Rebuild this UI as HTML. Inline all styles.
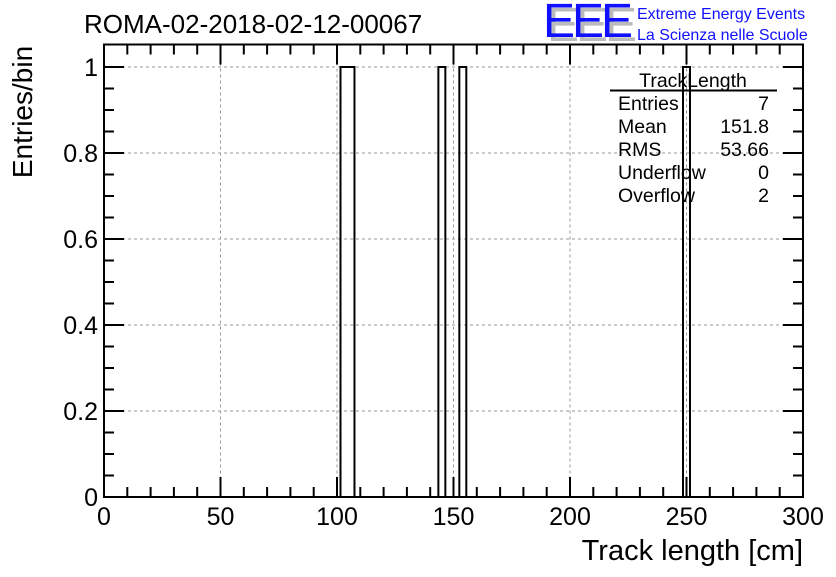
<!DOCTYPE html>
<html><head><meta charset="utf-8"><style>
body{margin:0;background:#fff;}
svg text{font-family:"Liberation Sans",sans-serif;}
</style></head><body>
<svg width="836" height="572" xmlns="http://www.w3.org/2000/svg">
<g id="grid"></g>
<g id="bars"></g>
<g id="axes"></g>
<rect x="104" y="44.5" width="699" height="452.5" fill="none" stroke="#000" stroke-width="2"/>
<text x="84" y="33" font-size="26">ROMA-02-2018-02-12-00067</text>
<text transform="translate(32,112) rotate(-90)" font-size="28" text-anchor="middle">Entries/bin</text>
<text x="803" y="560" font-size="29" text-anchor="end">Track length [cm]</text>
<g>
<text x="547" y="41" font-size="48" fill="#bbb" letter-spacing="-3">EEE</text>
<text x="543" y="37" font-size="48" fill="#1010ff" letter-spacing="-3">EEE</text>
<text x="637" y="19" font-size="16" fill="#1010ff">Extreme Energy Events</text>
<text x="637" y="40" font-size="16" fill="#1010ff">La Scienza nelle Scuole</text>
</g>
<g font-size="19.5">
<text x="693" y="87" text-anchor="middle">TrackLength</text>
<line x1="610" y1="90.5" x2="777" y2="90.5" stroke="#000" stroke-width="2"/>
<text x="618" y="110">Entries</text><text x="769" y="110" text-anchor="end">7</text>
<text x="618" y="133">Mean</text><text x="769" y="133" text-anchor="end">151.8</text>
<text x="618" y="156">RMS</text><text x="769" y="156" text-anchor="end">53.66</text>
<text x="618" y="179">Underflow</text><text x="769" y="179" text-anchor="end">0</text>
<text x="618" y="202">Overflow</text><text x="769" y="202" text-anchor="end">2</text>
</g>
</svg>
<script>
const binLowEdges=[101.5,104.5,143.5,152.5,248.5];
const binCounts=[1,1,1,1,1];
const binWidth=3;
const xTicks=[0,50,100,150,200,250,300];
const yTicks=[0,0.2,0.4,0.6,0.8,1];
const yTickLabels=["0","0.2","0.4","0.6","0.8","1"];
const X0=104,X1=803,Y0=497,Y1=67;
const sx=v=>X0+(v-0)/(300-0)*(X1-X0);
const sy=v=>Y0-(v-0)/(1-0)*(Y0-Y1);
const NS="http://www.w3.org/2000/svg";
function mk(tag,attrs,parent){const e=document.createElementNS(NS,tag);for(const k in attrs)e.setAttribute(k,attrs[k]);document.getElementById(parent).appendChild(e);return e;}
xTicks.forEach(t=>{if(t>0&&t<300){const l=mk('line',{x1:sx(t),x2:sx(t),y1:44.5,y2:Y0,stroke:'#999','stroke-dasharray':'3,3','stroke-width':1},'grid');

}});
yTicks.forEach(t=>{if(t>0){const l=mk('line',{x1:X0,x2:X1,y1:sy(t),y2:sy(t),stroke:'#999','stroke-dasharray':'3,3','stroke-width':1},'grid');

}});
// histogram outline (step path, adjacent bins merged)
let d='';let prevEnd=null;let prevY=null;
binLowEdges.forEach((e,i)=>{const y=sy(binCounts[i]);
if(prevEnd!==null&&Math.abs(prevEnd-e)<1e-6){d+=' V'+y+' H'+sx(e+binWidth);}
else{if(prevEnd!==null)d+=' V'+Y0;d+=' M'+sx(e)+' '+Y0+' V'+y+' H'+sx(e+binWidth);}
prevEnd=e+binWidth;prevY=y;});
if(prevEnd!==null)d+=' V'+Y0;
const p=mk('path',{d:d,fill:'none',stroke:'#000','stroke-width':2},'bars');


for(let v=0;v<=300;v+=10){const major=v%50===0;const len=major?20:10;
mk('line',{x1:sx(v),x2:sx(v),y1:Y0,y2:Y0-len,stroke:'#000','stroke-width':2},'axes');
mk('line',{x1:sx(v),x2:sx(v),y1:44.5,y2:44.5+len,stroke:'#000','stroke-width':2},'axes');}
xTicks.forEach(t=>{const tx=mk('text',{x:sx(t),y:525,'font-size':25,'text-anchor':'middle'},'axes');tx.textContent=String(t);

});
for(let k=0;k<=20;k++){const v=k*0.05;const major=k%4===0;const len=major?20:10;
mk('line',{x1:X0,x2:X0+len,y1:sy(v),y2:sy(v),stroke:'#000','stroke-width':2},'axes');
mk('line',{x1:X1,x2:X1-len,y1:sy(v),y2:sy(v),stroke:'#000','stroke-width':2},'axes');}
yTicks.forEach((t,i)=>{const tx=mk('text',{x:98,y:sy(t)+9,'font-size':25,'text-anchor':'end'},'axes');tx.textContent=yTickLabels[i];

});
</script>
</body></html>
